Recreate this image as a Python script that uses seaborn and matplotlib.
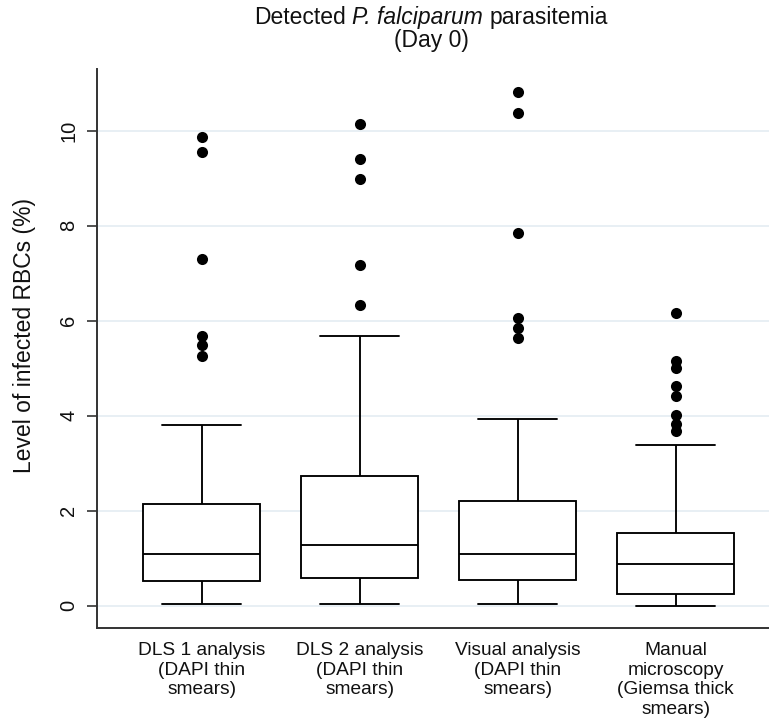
import numpy as np
import pandas as pd
import matplotlib
matplotlib.use("Agg")
import matplotlib.pyplot as plt
import seaborn as sns

# ---- data ----
categories = [
    "DLS 1 analysis\n(DAPI thin\nsmears)",
    "DLS 2 analysis\n(DAPI thin\nsmears)",
    "Visual analysis\n(DAPI thin\nsmears)",
    "Manual\nmicroscopy\n(Giemsa thick\nsmears)",
]
whisker_low = [0.03, 0.04, 0.03, 0.00]
q1 = [0.52, 0.58, 0.54, 0.25]
median = [1.08, 1.28, 1.09, 0.87]
q3 = [2.15, 2.72, 2.20, 1.52]
whisker_high = [3.80, 5.67, 3.94, 3.39]
outliers_dls1 = [9.86, 9.55, 7.30, 5.68, 5.48, 5.25]
outliers_dls2 = [10.15, 9.40, 8.98, 7.17, 6.34]
outliers_visual = [10.82, 10.37, 7.84, 6.05, 5.85, 5.64]
outliers_manual = [6.17, 5.16, 5.00, 4.63, 4.42, 4.01, 3.82, 3.68]
y_ticks = [0, 2, 4, 6, 8, 10]

title_parts = ["Detected", "P. falciparum", "parasitemia"]
title_italic = [False, True, False]
title_line2 = "(Day 0)"
y_label = "Level of infected RBCs (%)"

# ---- tables ----
box_rows = []
for c, lo, a, m, b, hi in zip(categories, whisker_low, q1, median, q3, whisker_high):
    for v in (lo, a, m, b, hi):
        box_rows.append({"group": c, "value": v})
box_df = pd.DataFrame(box_rows)

out_rows = []
for c, outs in zip(categories, [outliers_dls1, outliers_dls2, outliers_visual, outliers_manual]):
    for v in outs:
        out_rows.append({"group": c, "value": v})
out_df = pd.DataFrame(out_rows)

sns.set_style("white")
plt.rcParams["font.family"] = ["Liberation Sans", "DejaVu Sans"]
for k in ["text.color", "axes.labelcolor", "xtick.color", "ytick.color"]:
    plt.rcParams[k] = "#111111"

W, H = 769, 727
fig = plt.figure(figsize=(W / 100, H / 100), dpi=100)
ax = fig.add_axes([96.7 / W, 98.7 / H, (W - 96.7) / W, (628.3 - 69.4) / H])

for t in y_ticks:
    ax.axhline(t, color="#e6eef3", lw=1.3, zorder=0)

sns.boxplot(data=box_df, x="group", y="value", order=categories,
            color="white", linecolor="black", linewidth=1.35, width=0.74,
            whis=(0, 100), showfliers=False, capwidths=0.5, ax=ax, zorder=2)
sns.stripplot(data=out_df, x="group", y="value", order=categories,
              jitter=False, color="black", size=8, linewidth=0, ax=ax, zorder=3)

ax.set_xlim(-0.665, 3.59)
ax.set_ylim(-0.476, 11.29)
ax.set_yticks(y_ticks)
ax.set_yticklabels([str(t) for t in y_ticks], rotation=90, va="center", fontsize=14.5)
ax.tick_params(axis="y", length=7.2, width=1.2, color="#333333", pad=6, left=True)
ax.tick_params(axis="x", length=0, pad=10, labelsize=13.8)
for lab in ax.get_xticklabels():
    lab.set_multialignment("center")
ax.set_xlabel("")
ax.set_ylabel(y_label, fontsize=16.5)
ax.yaxis.set_label_coords((25 - 96.7) / 672.3, (628.3 - 335) / 558.9)
ax.yaxis.label.set_va("center")

for s in ["top", "right"]:
    ax.spines[s].set_visible(False)
for s in ["left", "bottom"]:
    ax.spines[s].set_color("#333333")
    ax.spines[s].set_linewidth(1.4)

# ---- title: mixed upright / italic on one line ----
title_fs = 16.5
renderer = fig.canvas.get_renderer()
title_center_x = 431.0
line1_top = H - 6.0
space_px = 0.278 * title_fs * 100 / 72
texts = []
for part, it in zip(title_parts, title_italic):
    t = fig.text(0, line1_top / H, part, ha="left", va="top", fontsize=title_fs,
                 fontstyle="italic" if it else "normal")
    texts.append(t)
widths = [t.get_window_extent(renderer).width for t in texts]
total = sum(widths) + space_px * (len(widths) - 1)
x = title_center_x - total / 2
for t, w in zip(texts, widths):
    t.set_x(x / W)
    x += w + space_px
fig.text(title_center_x / W, (line1_top - 23.5) / H, title_line2,
         ha="center", va="top", fontsize=title_fs)

fig.savefig("out.png", dpi=100, facecolor="white")
